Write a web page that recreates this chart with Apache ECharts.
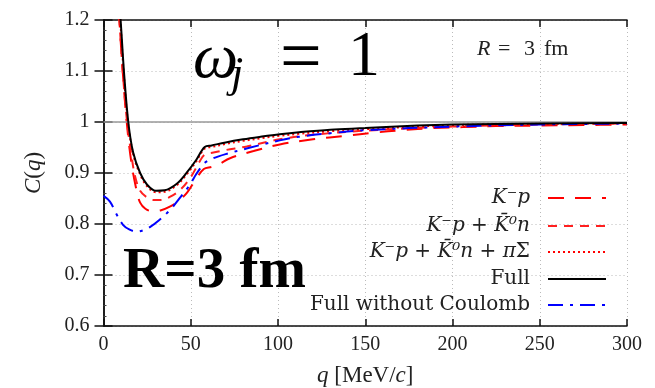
<!DOCTYPE html>
<html><head><meta charset="utf-8">
<script src="https://cdn.jsdelivr.net/npm/echarts@6/dist/echarts.min.js"></script>
<style>html,body{margin:0;padding:0;background:#fff}#c{width:655px;height:388px}</style>
</head><body><div id="c"></div>
<script>
// ---- data ----
const xTicks = [0, 50, 100, 150, 200, 250, 300];
const yTicks = [0.6, 0.7, 0.8, 0.9, 1.0, 1.1, 1.2];
const names = ['K⁻p', 'K⁻p + K̄⁰n', 'K⁻p + K̄⁰n + πΣ', 'Full', 'Full without Coulomb'];

const qKp = [8, 9.1, 11, 13.3, 16, 19, 21, 24, 28, 33, 38, 43, 48, 53, 57.5, 62, 66, 72.5, 86, 101, 120, 139, 155, 171, 189, 206, 225, 250, 275, 300];
const cKp = [1.27, 1.2, 1.1, 1.0, 0.92, 0.865, 0.842, 0.83, 0.825, 0.827, 0.834, 0.845, 0.862, 0.888, 0.908, 0.912, 0.917, 0.929, 0.943, 0.956, 0.966, 0.973, 0.979, 0.984, 0.988, 0.99, 0.992, 0.993, 0.994, 0.995];

const qKpK0n = [8, 9.1, 11, 13.5, 16, 18, 21, 25, 29, 33, 38, 44, 50, 55, 58, 63, 70, 82, 101, 120, 150, 200, 250, 300];
const cKpK0n = [1.27, 1.2, 1.1, 1.0, 0.935, 0.895, 0.865, 0.852, 0.847, 0.847, 0.853, 0.867, 0.892, 0.922, 0.936, 0.940, 0.945, 0.952, 0.966, 0.975, 0.983, 0.991, 0.995, 0.997];

const qKpK0nPiS = [7.5, 9.6, 11.5, 14, 17, 21, 25, 30, 35, 42, 48, 53, 58, 62, 70, 80, 90, 101, 112, 130, 150, 180, 200, 250, 300];
const cKpK0nPiS = [1.3, 1.2, 1.1, 1.0, 0.937, 0.897, 0.874, 0.862, 0.863, 0.876, 0.899, 0.922, 0.948, 0.951, 0.957, 0.963, 0.968, 0.973, 0.977, 0.982, 0.986, 0.991, 0.994, 0.996, 0.998];

const qFull = [7.5, 9.8, 11.7, 14.2, 17, 21, 25, 30, 35, 42, 48, 53, 58, 62, 70, 80, 90, 101, 112, 130, 150, 180, 200, 250, 300];
const cFull = [1.3, 1.2, 1.1, 1.0, 0.94, 0.90, 0.877, 0.865, 0.866, 0.879, 0.902, 0.925, 0.951, 0.954, 0.960, 0.966, 0.971, 0.976, 0.980, 0.985, 0.988, 0.993, 0.995, 0.997, 0.998];

const qNoC = [0, 3.7, 7, 11.3, 15, 19, 23, 26.6, 32, 38, 44, 49.5, 53, 56, 58, 63, 70, 82, 101, 112, 130, 150, 200, 250, 300];
const cNoC = [0.855, 0.844, 0.822, 0.798, 0.789, 0.785, 0.788, 0.794, 0.808, 0.827, 0.852, 0.877, 0.897, 0.912, 0.92, 0.929, 0.937, 0.948, 0.964, 0.971, 0.978, 0.984, 0.991, 0.995, 0.997];

// ---- chart ----
const zip = (q, c) => q.map((x, i) => [x, c[i]]);
const chart = echarts.init(document.getElementById('c'), null, {renderer: 'canvas'});
const serif = 'Liberation Serif';
const legFont = 'DejaVu Serif';
const tickFont = {fontFamily: serif, fontSize: 20, color: '#222'};

const legendRich = {
  i: {fontFamily: legFont, fontStyle: 'italic', fontSize: 20, color: '#222'},
  r: {fontFamily: legFont, fontSize: 20, color: '#222'}
};
const legendFmt = {
  'K⁻p': '{i|K⁻p}',
  'K⁻p + K̄⁰n': '{i|K⁻p} {r|+} {i|K̄⁰n}',
  'K⁻p + K̄⁰n + πΣ': '{i|K⁻p} {r|+} {i|K̄⁰n} {r|+} {i|π}{r|Σ}',
  'Full': '{r|Full}',
  'Full without Coulomb': '{r|Full without Coulomb}'
};
const legendTops = [188, 216, 242, 269, 295];

const lineStyles = [
  {color: '#ff0000', width: 2, type: [16, 11]},
  {color: '#ff2020', width: 2, type: [9, 7]},
  {color: '#ff0000', width: 2, type: [2, 3]},
  {color: '#000000', width: 2, type: 'solid'},
  {color: '#0000ff', width: 2, type: [15, 7, 3, 7]}
];
const datas = [zip(qKp, cKp), zip(qKpK0n, cKpK0n), zip(qKpK0nPiS, cKpK0nPiS), zip(qFull, cFull), zip(qNoC, cNoC)];

const series = names.map((n, i) => ({
  name: n, type: 'line', data: datas[i], symbol: 'none', smooth: 0.35,
  clip: true, lineStyle: lineStyles[i], itemStyle: {color: lineStyles[i].color},
  z: [3, 3, 4, 5, 4][i], animation: false
}));
series[3].markLine = {
  silent: true, symbol: 'none', label: {show: false}, animation: false,
  lineStyle: {color: '#999', width: 1.5, type: 'solid'},
  data: [{yAxis: 1}]
};

const fmtY = v => String(+v.toFixed(1));
const gridLine = {show: true, lineStyle: {color: '#bbb', type: [1, 3], width: 1}};

chart.setOption({
  animation: false,
  backgroundColor: '#fff',
  grid: {left: 103.5, right: 28, top: 20, bottom: 62, containLabel: false, outerBoundsMode: 'none'},
  xAxis: [{
    type: 'value', min: xTicks[0], max: xTicks[xTicks.length - 1], interval: 50,
    name: '{i|q} [MeV/{i|c}]', nameLocation: 'middle', nameGap: 38,
    nameTextStyle: {fontFamily: serif, fontSize: 23, color: '#222',
      rich: {i: {fontFamily: serif, fontStyle: 'italic', fontSize: 23, color: '#222'}}},
    axisLine: {lineStyle: {color: '#111', width: 1.5}},
    axisTick: {inside: true, length: 7, lineStyle: {color: '#111', width: 1.5}},
    axisLabel: Object.assign({margin: 9}, tickFont),
    splitLine: gridLine
  }, {
    type: 'value', position: 'top', min: 0, max: 300, interval: 50,
    axisLine: {show: true, lineStyle: {color: '#111', width: 1.5}},
    axisTick: {show: true, inside: true, length: 7, lineStyle: {color: '#111', width: 1.5}},
    axisLabel: {show: false}, splitLine: {show: false}
  }],
  yAxis: [{
    type: 'value', min: yTicks[0], max: yTicks[yTicks.length - 1], interval: 0.1,
    name: '{i|C}({i|q})', nameLocation: 'middle', nameGap: 58, nameRotate: 90,
    nameTextStyle: {fontFamily: serif, fontSize: 23, color: '#222',
      rich: {i: {fontFamily: serif, fontStyle: 'italic', fontSize: 23, color: '#222'}}},
    axisLine: {show: true, lineStyle: {color: '#111', width: 1.5}},
    axisTick: {show: true, inside: true, length: 9, lineStyle: {color: '#111', width: 1.5}},
    minorTick: {show: true, splitNumber: 5, length: 3, lineStyle: {color: '#444', width: 1}},
    axisLabel: Object.assign({margin: 14, formatter: fmtY}, tickFont),
    splitLine: gridLine
  }, {
    type: 'value', position: 'right', min: 0.6, max: 1.2, interval: 0.1,
    axisLine: {show: true, lineStyle: {color: '#111', width: 1.5}},
    axisTick: {show: true, inside: true, length: 9, lineStyle: {color: '#111', width: 1.5}},
    axisLabel: {show: false}, splitLine: {show: false}
  }],
  legend: names.map((n, i) => ({
    data: [n], right: 48, top: legendTops[i], orient: 'vertical', align: 'right',
    itemWidth: 58, itemHeight: 14, selectedMode: false, padding: 0,
    itemStyle: {opacity: 0},
    formatter: name => legendFmt[name],
    textStyle: {fontFamily: legFont, fontSize: 20, color: '#222', rich: legendRich, padding: [0, 13, 0, 0]}
  })),
  series: series,
  graphic: [
    {type: 'text', left: 193, top: 28, z: 10, style: {text: 'ω', font: 'italic 64px "Liberation Serif"', fill: '#000'}},
    {type: 'text', left: 231, top: 53, z: 10, style: {text: 'j', font: 'italic 44px "Liberation Serif"', fill: '#000'}},
    {type: 'text', left: 280, top: 24, z: 10, style: {text: '=', font: '74px "Liberation Serif"', fill: '#000'}},
    {type: 'text', left: 348, top: 26, z: 10, style: {text: '1', font: '64px "Liberation Serif"', fill: '#000'}},
    {type: 'text', left: 477, top: 38, z: 10, style: {text: 'R', font: 'italic 22px "Liberation Serif"', fill: '#222'}},
    {type: 'text', left: 498, top: 38, z: 10, style: {text: '=', font: '22px "Liberation Serif"', fill: '#222'}},
    {type: 'text', left: 524, top: 38, z: 10, style: {text: '3', font: '22px "Liberation Serif"', fill: '#222'}},
    {type: 'text', left: 544, top: 38, z: 10, style: {text: 'fm', font: '22px "Liberation Serif"', fill: '#222'}},
    {type: 'text', left: 123, top: 244, z: 10, style: {text: 'R=3 fm', font: 'bold 57px "Liberation Serif"', fill: '#000'}}
  ]
});
</script></body></html>
